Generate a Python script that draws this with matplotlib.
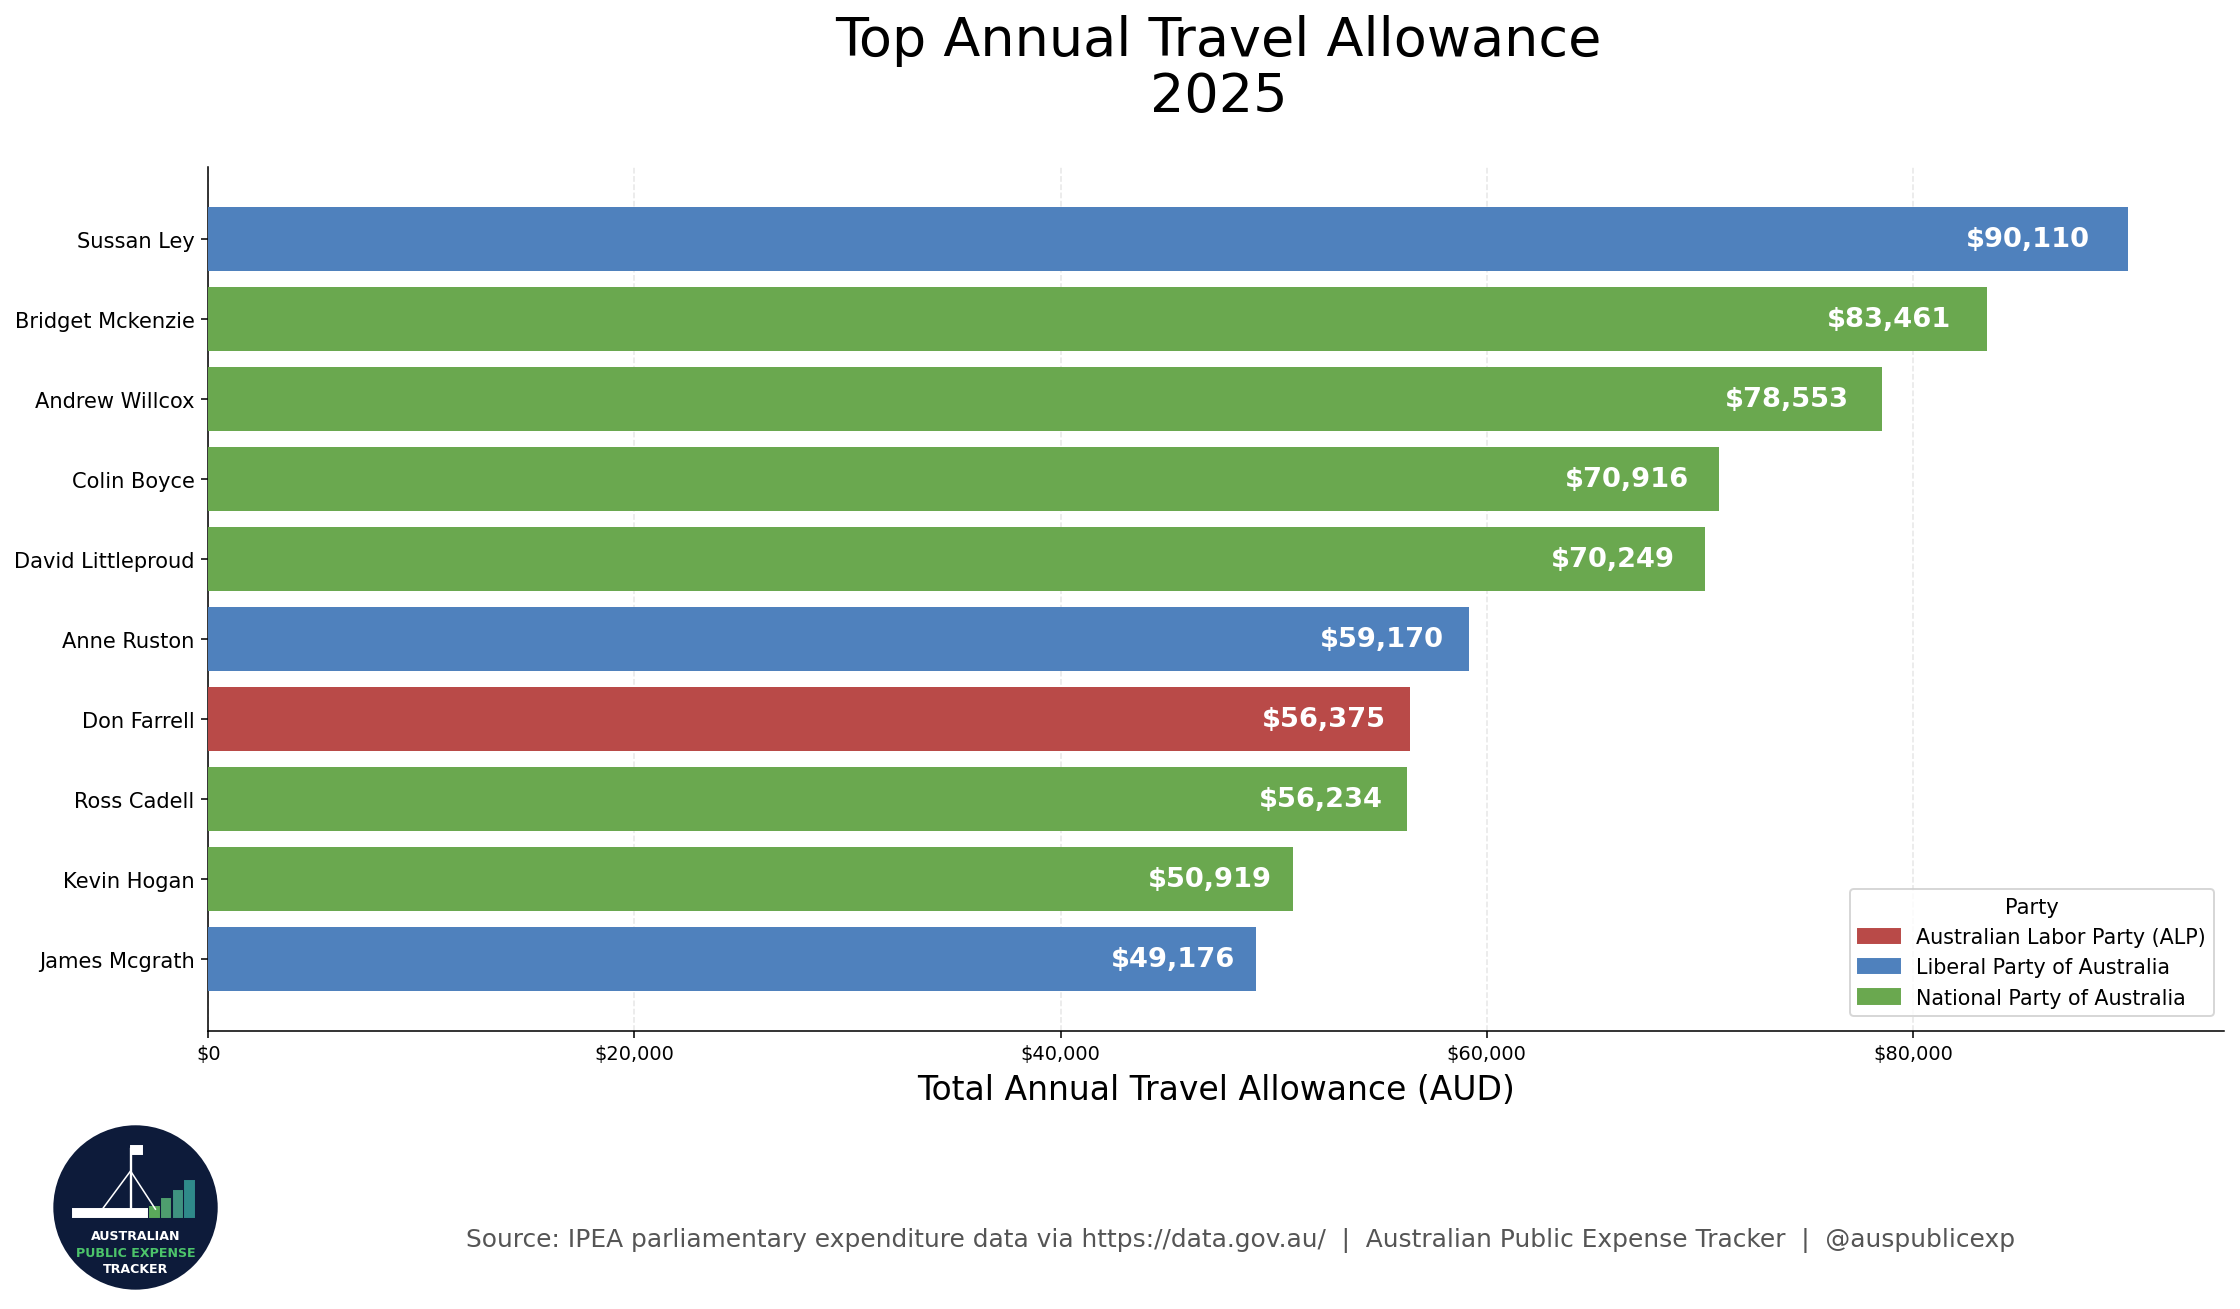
import numpy as np
import matplotlib.pyplot as plt
from matplotlib.patches import Patch, Circle, Rectangle

names = ["Sussan Ley", "Bridget Mckenzie", "Andrew Willcox", "Colin Boyce",
         "David Littleproud", "Anne Ruston", "Don Farrell", "Ross Cadell",
         "Kevin Hogan", "James Mcgrath"]
values = [90110, 83461, 78553, 70916, 70249, 59170, 56375, 56234, 50919, 49176]
parties = ["LIB", "NAT", "NAT", "NAT", "NAT", "LIB", "ALP", "NAT", "NAT", "LIB"]

party_names = {"ALP": "Australian Labor Party (ALP)",
               "LIB": "Liberal Party of Australia",
               "NAT": "National Party of Australia"}
party_colors = {"ALP": "#b94a48", "LIB": "#4f81bd", "NAT": "#6aa84f"}

fig = plt.figure(figsize=(16, 9.357), dpi=140)
ax = fig.add_axes([0.093, 0.2125, 0.9, 0.659])

y = np.arange(len(names))
colors = [party_colors[p] for p in parties]
ax.barh(y, values, height=0.8, color=colors, zorder=3)
ax.invert_yaxis()
ax.set_yticks(y)
ax.set_yticklabels(names, fontsize=10.8)

xmax = max(values) * 1.05
ax.set_xlim(0, xmax)
ticks = [0, 20000, 40000, 60000, 80000]
ax.set_xticks(ticks)
ax.set_xticklabels(["${:,}".format(t) for t in ticks], fontsize=10)
ax.set_xlabel("Total Annual Travel Allowance (AUD)", fontsize=17)
ax.xaxis.labelpad = 5
ax.grid(axis="x", linestyle="--", alpha=0.3, zorder=0)

for yi, v in zip(y, values):
    ax.text(v * 0.98, yi, "${:,}".format(v), ha="right", va="center",
            color="white", fontsize=14, fontweight="bold", zorder=4)

ax.spines["top"].set_visible(False)
ax.spines["right"].set_visible(False)

handles = [Patch(color=party_colors[k], label=party_names[k]) for k in ["ALP", "LIB", "NAT"]]
ax.legend(handles=handles, title="Party", loc="lower right", fontsize=10.6,
          title_fontsize=10.8, bbox_to_anchor=(1.0, 0.005))

fig.text(0.544, 0.947, "Top Annual Travel Allowance\n2025", ha="center", va="center",
         fontsize=27.8, linespacing=1.1)

fig.text(0.554, 0.053, "Source: IPEA parliamentary expenditure data via https://data.gov.au/  |  "
         "Australian Public Expense Tracker  |  @auspublicexp",
         ha="center", va="center", fontsize=12.8, color="#555555")

# logo
lax = fig.add_axes([0.0235, 0.014, 0.074, 0.127])
lax.set_xlim(0, 1)
lax.set_ylim(0, 1)
lax.set_aspect("equal")
lax.axis("off")
lax.add_patch(Circle((0.5, 0.5), 0.49, color="#0d1b3a"))
lax.add_patch(Rectangle((0.12, 0.44), 0.45, 0.05, color="white"))
lax.plot([0.47, 0.47], [0.49, 0.85], color="white", lw=1.2)
lax.plot([0.3, 0.47, 0.62], [0.49, 0.72, 0.49], color="white", lw=0.8)
lax.add_patch(Rectangle((0.47, 0.82), 0.07, 0.05, color="white"))
bar_h = [0.06, 0.11, 0.16, 0.22]
bar_c = ["#5aa85a", "#4e9e6e", "#3f9280", "#2f8a8a"]
for i, (bh, bc) in enumerate(zip(bar_h, bar_c)):
    lax.add_patch(Rectangle((0.59 + i * 0.07, 0.44), 0.05, bh, color=bc))
lax.text(0.5, 0.33, "AUSTRALIAN", ha="center", va="center", color="white",
         fontsize=6.5, fontweight="bold")
lax.text(0.5, 0.23, "PUBLIC EXPENSE", ha="center", va="center", color="#4cc46a",
         fontsize=6.5, fontweight="bold")
lax.text(0.5, 0.13, "TRACKER", ha="center", va="center", color="white",
         fontsize=6.5, fontweight="bold")

fig.savefig("out.png", dpi=140)
